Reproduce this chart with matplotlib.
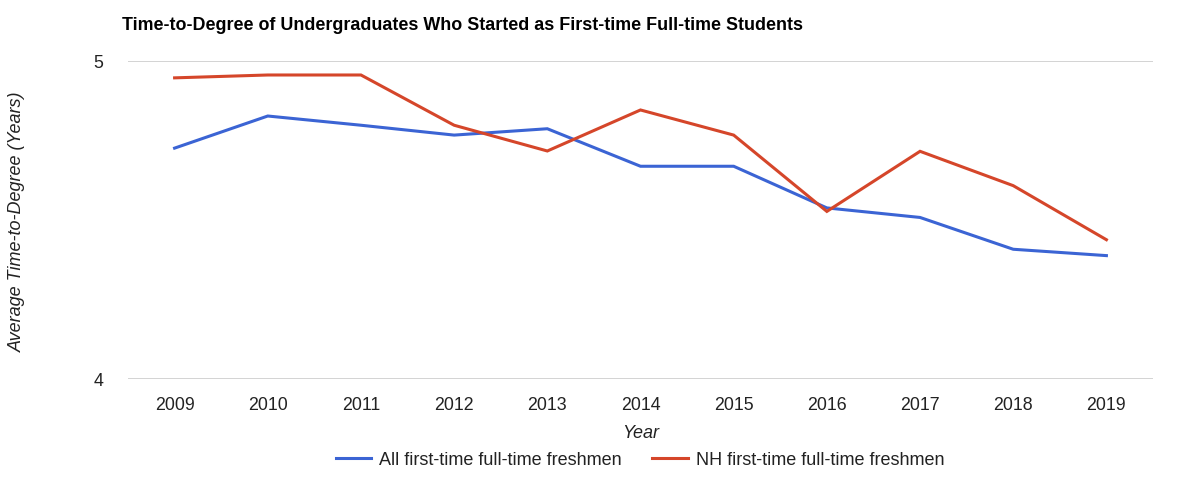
import matplotlib
matplotlib.use("Agg")
import matplotlib.pyplot as plt

years = ["2009", "2010", "2011", "2012", "2013", "2014", "2015", "2016", "2017", "2018", "2019"]
all_ftft = [4.726, 4.827, 4.798, 4.767, 4.787, 4.669, 4.669, 4.538, 4.508, 4.408, 4.388]
nh_ftft = [4.947, 4.956, 4.956, 4.798, 4.717, 4.846, 4.767, 4.527, 4.716, 4.608, 4.438]
series_names = ["All first-time full-time freshmen", "NH first-time full-time freshmen"]
y_ticks = [4, 5]

plt.rcParams['font.family'] = ['Liberation Sans', 'DejaVu Sans']

fig = plt.figure(figsize=(12, 4.85), dpi=100)
ax = fig.add_axes([128/1200, 1-380/485, (1153-128)/1200, (380-62)/485])

x = list(range(len(years)))
ax.plot(x, all_ftft, color="#3b64d4", lw=2.2, label=series_names[0], solid_joinstyle="miter")
ax.plot(x, nh_ftft, color="#d5462a", lw=2.2, label=series_names[1], solid_joinstyle="miter")

ax.set_xlim(-0.5, len(years) - 0.5)
ax.set_ylim(4, 5)
ax.set_yticks(y_ticks)
ax.set_yticklabels([str(v) for v in y_ticks])
ax.set_xticks(x)
ax.set_xticklabels(years)
for s in ax.spines.values():
    s.set_visible(False)
ax.tick_params(axis='both', length=0, labelsize=12.8, colors="#222222")
ax.tick_params(axis='x', pad=12)
ax.tick_params(axis='y', pad=18)
for v in y_ticks:
    ax.axhline(v, color="#cccccc", lw=1.2, zorder=0)

ax.set_xlabel("Year", fontsize=13, style="italic", color="#222222", labelpad=8)
fig.text(17/1200, 1-222/485, "Average Time-to-Degree (Years)", rotation=90, fontsize=13,
         style="italic", color="#222222", ha="center", va="center")
fig.text(122/1200, 1-25/485, "Time-to-Degree of Undergraduates Who Started as First-time Full-time Students",
         fontsize=12.9, fontweight="bold", color="#000000", ha="left", va="center")

leg = fig.legend(loc="center", bbox_to_anchor=(640/1200, 1-461/485), ncol=2, frameon=False,
                 fontsize=13, handlelength=1.95, columnspacing=1.7, handletextpad=0.45)
for t in leg.get_texts():
    t.set_color("#222222")

fig.savefig("out.png", dpi=100)
